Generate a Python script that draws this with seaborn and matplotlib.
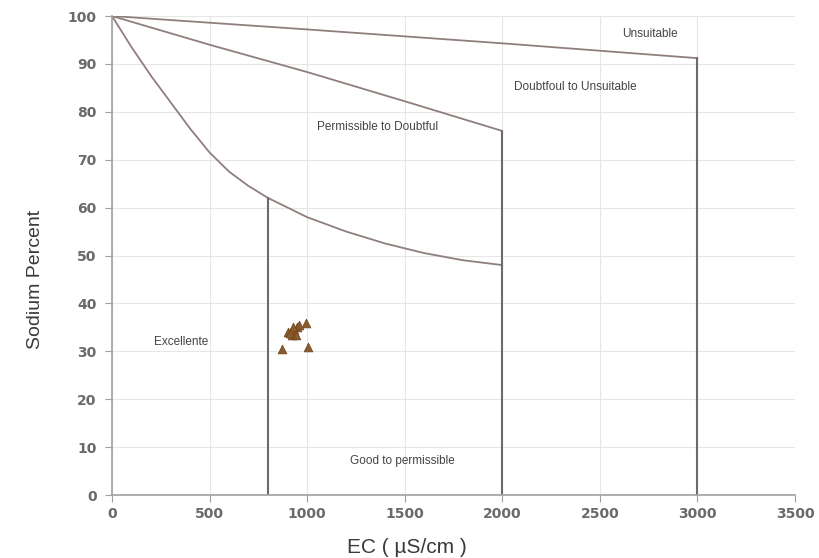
import pandas as pd
import matplotlib
matplotlib.use('Agg')
import matplotlib.pyplot as plt
import seaborn as sns

# Boundary curves of the Wilcox-type diagram
ec_low = [0, 100, 200, 300, 400, 500, 600, 700, 800, 1000, 1200, 1400, 1600, 1800, 2000]
na_low = [100, 93.5, 87.5, 82, 76.5, 71.5, 67.5, 64.5, 62, 58, 55, 52.5, 50.5, 49, 48]

ec_mid = [0, 500, 1000, 1500, 2000]
na_mid = [100, 94, 88.3, 82.2, 76]

ec_top = [0, 1000, 2000, 3000]
na_top = [100, 97.2, 94.3, 91.2]

# Vertical class limits: (EC, top of line)
vlines_ec = [800, 2000, 3000]
vlines_top = [62, 76, 91.2]

# Samples
sample_ec = [870, 1005, 995, 900, 920, 935, 950, 960, 945, 925, 910]
sample_na = [30.5, 31, 36, 34, 33.5, 34.5, 35, 35.5, 33.5, 35, 33.8]

zone_labels = ['Unsuitable', 'Doubtfoul to Unsuitable', 'Permissible to Doubtful',
               'Excellente', 'Good to permissible']
zone_x = [2757, 2373, 1363, 354, 1486]
zone_y = [96.2, 85.2, 76.8, 32, 7.1]

sns.set_style('whitegrid')
plt.rcParams['font.family'] = ['Liberation Sans', 'DejaVu Sans']

fig = plt.figure(figsize=(8.2, 5.58), dpi=100)
ax = fig.add_axes([0.1366, 0.1129, 0.833, 0.8584])

line_col = '#8f7f7c'
sns.lineplot(x=ec_low, y=na_low, ax=ax, color=line_col, lw=1.3, sort=False)
sns.lineplot(x=ec_mid, y=na_mid, ax=ax, color=line_col, lw=1.3, sort=False)
sns.lineplot(x=ec_top, y=na_top, ax=ax, color=line_col, lw=1.3, sort=False)
for xv, top in zip(vlines_ec, vlines_top):
    ax.plot([xv, xv], [0, top], color='#6f6a6a', lw=1.5)

sns.scatterplot(x=sample_ec, y=sample_na, ax=ax, marker='^', s=40,
                color='#8b5a2b', edgecolor='#6b4220', linewidth=0.5, zorder=5)

for t, xx, yy in zip(zone_labels, zone_x, zone_y):
    ax.text(xx, yy, t, fontsize=8.5, color='#444444', ha='center', va='center')

ax.set_xlim(0, 3500)
ax.set_ylim(0, 100)
ax.set_xticks(range(0, 3501, 500))
ax.set_yticks(range(0, 101, 10))
ax.grid(True, color='#e6e6e6', lw=0.8)
for s in ['top', 'right']:
    ax.spines[s].set_visible(False)
for s in ['left', 'bottom']:
    ax.spines[s].set_color('#a0a0a0')
    ax.spines[s].set_linewidth(1.2)
ax.tick_params(axis='both', length=5, color='#a0a0a0', left=True, bottom=True)
ax.tick_params(axis='y', pad=6)
for lab in ax.get_xticklabels() + ax.get_yticklabels():
    lab.set_family('DejaVu Sans')
    lab.set_fontweight('bold')
    lab.set_fontsize(10)
    lab.set_color('#6a6a6a')

ax.set_xlabel('EC ( µS/cm )', fontsize=15, color='#3a3a3a', va='center')
ax.xaxis.set_label_coords(0.432, -0.11)
ax.set_ylabel('Sodium Percent', fontsize=14, color='#3a3a3a')
ax.yaxis.set_label_coords(-0.10, 0.45)

fig.savefig('out.png', dpi=100)
